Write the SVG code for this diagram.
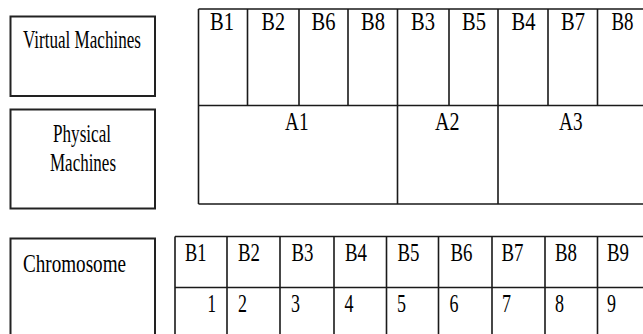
<svg xmlns="http://www.w3.org/2000/svg" width="643" height="334" viewBox="0 0 643 334">
<style>
.box{fill:#fff;stroke:#222;stroke-width:2}
.ln{stroke:#1a1a1a;stroke-width:1.6;fill:none}
text{font-family:'Liberation Serif',serif;font-size:25px;fill:#000}
</style>
<rect width="643" height="334" fill="#fff"/>
<g id="vm-label">
<rect class="box" x="10.5" y="16.5" width="144.5" height="79.5"/>
<text font-family="'Liberation Serif'" x="23" y="48" textLength="118" lengthAdjust="spacingAndGlyphs">Virtual Machines</text>
</g>
<g id="pm-label">
<rect class="box" x="10.5" y="109.5" width="144.5" height="99"/>
<text font-family="'Liberation Serif'" x="53" y="142" textLength="58" lengthAdjust="spacingAndGlyphs">Physical</text>
<text font-family="'Liberation Serif'" x="50" y="171" textLength="66" lengthAdjust="spacingAndGlyphs">Machines</text>
</g>
<g id="chromosome-label">
<rect class="box" x="10.5" y="238.5" width="144.5" height="110"/>
<text font-family="'Liberation Serif'" x="23" y="272" textLength="103" lengthAdjust="spacingAndGlyphs">Chromosome</text>
</g>
<g id="vm-pm-table" font-family="'Liberation Serif'">
<path class="ln" d="M198.5 9H660M198.5 105.5H660M198.5 204H660M198.5 9V204M397.5 9V204M498 9V204M247.5 9V105.5M299 9V105.5M348 9V105.5M449 9V105.5M548 9V105.5M597.5 9V105.5"/>
<text font-family="'Liberation Serif'" x="210" y="30" textLength="24" lengthAdjust="spacingAndGlyphs">B1</text>
<text font-family="'Liberation Serif'" x="261.5" y="30" textLength="23.5" lengthAdjust="spacingAndGlyphs">B2</text>
<text font-family="'Liberation Serif'" x="311.5" y="30" textLength="24" lengthAdjust="spacingAndGlyphs">B6</text>
<text font-family="'Liberation Serif'" x="361" y="30" textLength="24" lengthAdjust="spacingAndGlyphs">B8</text>
<text font-family="'Liberation Serif'" x="411" y="30" textLength="24" lengthAdjust="spacingAndGlyphs">B3</text>
<text font-family="'Liberation Serif'" x="462" y="30" textLength="24" lengthAdjust="spacingAndGlyphs">B5</text>
<text font-family="'Liberation Serif'" x="511.5" y="30" textLength="24" lengthAdjust="spacingAndGlyphs">B4</text>
<text font-family="'Liberation Serif'" x="561" y="30" textLength="24" lengthAdjust="spacingAndGlyphs">B7</text>
<text font-family="'Liberation Serif'" x="611.5" y="30" textLength="22" lengthAdjust="spacingAndGlyphs">B8</text>
<text font-family="'Liberation Serif'" x="285" y="130" textLength="23.5" lengthAdjust="spacingAndGlyphs">A1</text>
<text font-family="'Liberation Serif'" x="435" y="130" textLength="24.5" lengthAdjust="spacingAndGlyphs">A2</text>
<text font-family="'Liberation Serif'" x="559" y="130" textLength="23.5" lengthAdjust="spacingAndGlyphs">A3</text>
</g>
<g id="chromosome-table">
<path class="ln" d="M175 236.5H660M175 287.5H660M175 236.5V345M227 236.5V345M280 236.5V345M334 236.5V345M386.5 236.5V345M438.5 236.5V345M492 236.5V345M545 236.5V345M597.5 236.5V345"/>
<text font-family="'Liberation Serif'" x="185" y="261" textLength="21.5" lengthAdjust="spacingAndGlyphs">B1</text>
<text font-family="'Liberation Serif'" x="238" y="261" textLength="22" lengthAdjust="spacingAndGlyphs">B2</text>
<text font-family="'Liberation Serif'" x="291.5" y="261" textLength="22" lengthAdjust="spacingAndGlyphs">B3</text>
<text font-family="'Liberation Serif'" x="345" y="261" textLength="22" lengthAdjust="spacingAndGlyphs">B4</text>
<text font-family="'Liberation Serif'" x="397.5" y="261" textLength="22" lengthAdjust="spacingAndGlyphs">B5</text>
<text font-family="'Liberation Serif'" x="450.5" y="261" textLength="22" lengthAdjust="spacingAndGlyphs">B6</text>
<text font-family="'Liberation Serif'" x="501.5" y="261" textLength="22" lengthAdjust="spacingAndGlyphs">B7</text>
<text font-family="'Liberation Serif'" x="555" y="261" textLength="22" lengthAdjust="spacingAndGlyphs">B8</text>
<text font-family="'Liberation Serif'" x="607" y="261" textLength="22" lengthAdjust="spacingAndGlyphs">B9</text>
<text font-family="'Liberation Serif'" x="207.5" y="312" textLength="8.5" lengthAdjust="spacingAndGlyphs">1</text>
<text font-family="'Liberation Serif'" x="238" y="312" textLength="9" lengthAdjust="spacingAndGlyphs">2</text>
<text font-family="'Liberation Serif'" x="291" y="312" textLength="9" lengthAdjust="spacingAndGlyphs">3</text>
<text font-family="'Liberation Serif'" x="344.5" y="312" textLength="9" lengthAdjust="spacingAndGlyphs">4</text>
<text font-family="'Liberation Serif'" x="397" y="312" textLength="9" lengthAdjust="spacingAndGlyphs">5</text>
<text font-family="'Liberation Serif'" x="449.5" y="312" textLength="9" lengthAdjust="spacingAndGlyphs">6</text>
<text font-family="'Liberation Serif'" x="502" y="312" textLength="9" lengthAdjust="spacingAndGlyphs">7</text>
<text font-family="'Liberation Serif'" x="555" y="312" textLength="9" lengthAdjust="spacingAndGlyphs">8</text>
<text font-family="'Liberation Serif'" x="607" y="312" textLength="9" lengthAdjust="spacingAndGlyphs">9</text>
</g>
<g id="connectors"/>
</svg>
